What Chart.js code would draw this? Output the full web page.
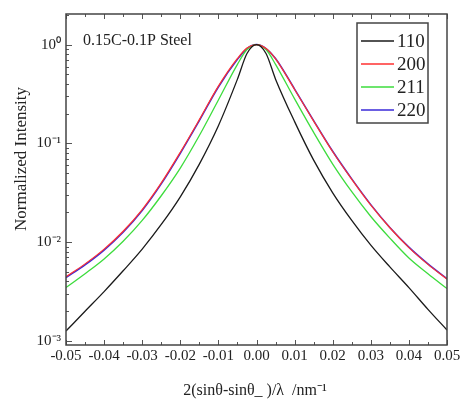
<!DOCTYPE html>
<html>
<head>
<meta charset="utf-8">
<script src="https://cdn.jsdelivr.net/npm/chart.js@4.4.0/dist/chart.umd.min.js"></script>
<style>
  html, body { margin: 0; padding: 0; background: #fff; }
</style>
</head>
<body>
<canvas id="chart" width="464" height="403"></canvas>
<script>
// scattering vector offsets (nm^-1)
const xValues = [-0.05, -0.045, -0.04, -0.035, -0.03, -0.025, -0.02, -0.015, -0.01, -0.005, -0.0025, 0,
  0.0025, 0.005, 0.01, 0.015, 0.02, 0.025, 0.03, 0.035, 0.04, 0.045, 0.05];

// normalized intensity per reflection
const i110 = [0.00126, 0.00200, 0.00316, 0.00513, 0.00851, 0.0151, 0.0288, 0.0617, 0.151, 0.447, 0.813, 1,
  0.813, 0.447, 0.166, 0.0676, 0.0316, 0.0166, 0.00933, 0.00562, 0.00347, 0.00209, 0.00129];
const i200 = [0.00447, 0.00603, 0.00851, 0.0129, 0.0214, 0.0398, 0.0813, 0.174, 0.380, 0.724, 0.923, 1,
  0.912, 0.716, 0.351, 0.168, 0.0822, 0.0432, 0.0237, 0.0140, 0.00881, 0.00596, 0.00422];
const i211 = [0.00347, 0.00479, 0.00676, 0.0102, 0.0166, 0.0295, 0.0562, 0.120, 0.275, 0.631, 0.891, 1,
  0.891, 0.631, 0.282, 0.129, 0.0617, 0.0324, 0.0182, 0.0110, 0.00692, 0.00479, 0.00339];
const i220 = [0.00437, 0.00589, 0.00832, 0.0126, 0.0209, 0.0389, 0.0794, 0.170, 0.372, 0.708, 0.912, 1,
  0.912, 0.724, 0.355, 0.170, 0.0832, 0.0437, 0.0240, 0.0141, 0.00891, 0.00603, 0.00427];

const seriesLabels = ["110", "200", "211", "220"];
const xTicks = [-0.05, -0.04, -0.03, -0.02, -0.01, 0, 0.01, 0.02, 0.03, 0.04, 0.05];
const yTicks = [0.001, 0.01, 0.1, 1];
const yTickLabels = ["10\u207B\u00B3", "10\u207B\u00B2", "10\u207B\u00B9", "10\u2070"];

const serif = "'Liberation Serif', 'Times New Roman', serif";
const colors = ["#1a1a1a", "#ff3030", "#3ddc3d", "#3a2ad8"];
const widths = [1.3, 1.2, 1.3, 1.5];

function toPoints(ys) {
  return xValues.map((x, i) => ({ x: x, y: ys[i] }));
}

const decorPlugin = {
  id: "decor",
  afterDraw(chart) {
    const { ctx, chartArea: a, scales } = chart;
    const x = scales.x;
    const y = scales.y;
    ctx.save();
    ctx.strokeStyle = "#555";
    ctx.lineWidth = 1;

    // inward ticks on bottom and top
    ctx.beginPath();
    for (let k = -10; k <= 10; k++) {
      const px = Math.round(x.getPixelForValue(k * 0.005)) + 0.5;
      const len = k % 2 === 0 ? 5 : 3;
      ctx.moveTo(px, a.bottom);
      ctx.lineTo(px, a.bottom - len);
      ctx.moveTo(px, a.top);
      ctx.lineTo(px, a.top + len);
    }
    // inward ticks on the left (log minor ticks)
    for (let e = -4; e <= 0; e++) {
      for (let m = 1; m <= 9; m++) {
        const v = m * Math.pow(10, e);
        if (v < y.min || v > y.max) continue;
        const py = Math.round(y.getPixelForValue(v)) + 0.5;
        const len = m === 1 ? 6 : 3;
        ctx.moveTo(a.left, py);
        ctx.lineTo(a.left + len, py);
      }
    }
    ctx.stroke();

    // frame
    ctx.lineWidth = 1.5;
    ctx.strokeStyle = "#444";
    ctx.strokeRect(a.left, a.top, a.right - a.left, a.bottom - a.top);

    // sample label
    ctx.fillStyle = "#222";
    ctx.font = "16px " + serif;
    ctx.textAlign = "left";
    ctx.textBaseline = "middle";
    ctx.fillText("0.15C-0.1P Steel", 83, 41);

    // legend box
    const lx = 357, ly = 23, lw = 71, lh = 100;
    ctx.save();
    ctx.beginPath();
    ctx.rect(lx, ly, lw, lh);
    ctx.clip();
    ctx.font = "19px " + serif;
    chart.data.datasets.forEach((ds, i) => {
      const ry = 41 + i * 23;
      ctx.strokeStyle = ds.borderColor;
      ctx.lineWidth = 1.3;
      ctx.beginPath();
      ctx.moveTo(361, ry);
      ctx.lineTo(394, ry);
      ctx.stroke();
      ctx.fillStyle = "#222";
      ctx.fillText(ds.label, 397, ry + 1);
    });
    ctx.restore();
    ctx.lineWidth = 1.5;
    ctx.strokeStyle = "#444";
    ctx.strokeRect(lx, ly, lw, lh);

    // axis titles
    ctx.fillStyle = "#222";
    ctx.font = "16px " + serif;
    ctx.textAlign = "center";
    ctx.fillText("2(sin\u03B8-sin\u03B8_ )/\u03BB  /nm\u207B\u00B9", 255, 391);
    ctx.translate(22, 159);
    ctx.rotate(-Math.PI / 2);
    ctx.font = "17px " + serif;
    ctx.fillText("Normalized Intensity", 0, 0);
    ctx.restore();
  }
};

const datasets = [i110, i200, i211, i220].map((ys, i) => ({
  label: seriesLabels[i],
  data: toPoints(ys),
  borderColor: colors[i],
  borderWidth: widths[i],
  pointRadius: 0,
  fill: false,
  cubicInterpolationMode: "monotone"
}));

new Chart(document.getElementById("chart").getContext("2d"), {
  type: "line",
  data: { datasets },
  options: {
    responsive: false,
    devicePixelRatio: 1,
    animation: false,
    layout: { padding: { top: 10, right: 17, left: 0, bottom: 0 } },
    plugins: { legend: { display: false }, tooltip: { enabled: false } },
    scales: {
      x: {
        type: "linear",
        min: -0.05,
        max: 0.05,
        afterFit(s) { s.height = 58; },
        afterBuildTicks(s) { s.ticks = xTicks.map((v) => ({ value: v })); },
        ticks: {
          callback: (v) => v.toFixed(2),
          font: { family: serif, size: 15 },
          color: "#222",
          padding: 2,
          maxRotation: 0,
          autoSkip: false
        },
        grid: { display: false, drawTicks: false },
        border: { display: false }
      },
      y: {
        type: "logarithmic",
        min: 0.00091,
        max: 2.04,
        afterFit(s) { s.width = 66; },
        afterBuildTicks(s) { s.ticks = yTicks.map((v) => ({ value: v })); },
        ticks: {
          callback: (v, i) => yTickLabels[i],
          font: { family: serif, size: 15 },
          color: "#222",
          padding: 5,
          autoSkip: false
        },
        grid: { display: false, drawTicks: false },
        border: { display: false }
      }
    }
  },
  plugins: [decorPlugin]
});
</script>
</body>
</html>
